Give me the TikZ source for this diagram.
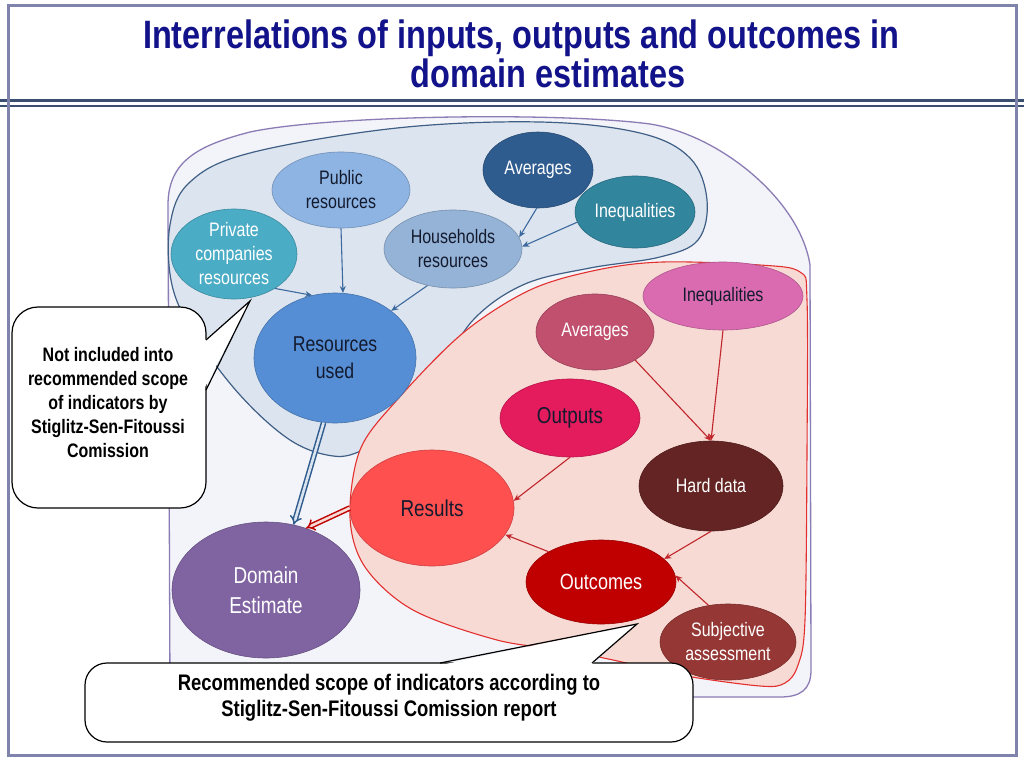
\documentclass[tikz,border=0pt]{standalone}
\usepackage{fontspec}
\setmainfont{Liberation Sans}[FakeStretch=0.82]
\usepackage{tikz}
\usetikzlibrary{shapes.geometric, arrows.meta}
\definecolor{framegray}{HTML}{8084AC}
\definecolor{rulenavy}{HTML}{3A4F70}
\definecolor{titlenavy}{HTML}{12128A}
\definecolor{darktext}{HTML}{141A2E}
\definecolor{scopegray}{HTML}{F3F4F9}
\definecolor{scopeline}{HTML}{8C7CB6}
\definecolor{inputfill}{HTML}{DCE4EF}
\definecolor{inputline}{HTML}{3F5F85}
\definecolor{resultfill}{HTML}{F8DAD5}
\definecolor{resultline}{HTML}{E3302F}
\definecolor{pubblue}{HTML}{8DB4E2}
\definecolor{privteal}{HTML}{4BACC6}
\definecolor{avgblue}{HTML}{2F5C8F}
\definecolor{ineqteal}{HTML}{31859C}
\definecolor{hhblue}{HTML}{95B3D7}
\definecolor{usedblue}{HTML}{558ED5}
\definecolor{ineqpink}{HTML}{DA6BB0}
\definecolor{avgrose}{HTML}{C0506E}
\definecolor{outpink}{HTML}{E41B5D}
\definecolor{hardbrown}{HTML}{632423}
\definecolor{resred}{HTML}{FF5050}
\definecolor{outcred}{HTML}{C00000}
\definecolor{subjred}{HTML}{953734}
\definecolor{domviolet}{HTML}{8064A2}
\definecolor{bluearrow}{HTML}{3D6A9E}
\definecolor{redarrow}{HTML}{C0262C}

\begin{document}
\begin{tikzpicture}[x=1pt, y=-1pt,
  bubble/.style={ellipse, inner sep=0pt, align=center, fill=#1, draw=#1!80!black,
    line width=0.6pt, font=\fontsize{19.5}{24}\selectfont},
  inarrow/.style={bluearrow, line width=1.1pt, -{Stealth[length=7pt, width=6pt]}},
  resarrow/.style={redarrow, line width=1.1pt, -{Stealth[length=7pt, width=6pt]}},
  callout/.style={draw=black, fill=white, line width=1.2pt},
  callouttext/.style={align=center, font=\bfseries\fontsize{19.5}{24}\selectfont}]

\useasboundingbox (0,0) rectangle (1024,768);
\fill[white] (0,0) rectangle (1024,768);

% title
\node[titlenavy, font=\bfseries\fontsize{39.6}{40}\selectfont] (title1) at (521,38)
  {Interrelations of inputs, outputs and outcomes in};
\node[titlenavy, font=\bfseries\fontsize{39.6}{40}\selectfont] (title2) at (548,73)
  {domain estimates};
\draw[rulenavy, line width=2.5pt] (0,100.5) -- (1024,100.5);
\draw[rulenavy, line width=2.5pt] (0,106) -- (1024,106);

% scopes
\draw[scopeline, fill=scopegray, line width=1.3pt]
  (170,690) -- (168,205) .. controls (168,160) and (200,145) .. (250,132)
  .. controls (330,115) and (560,112) .. (650,124)
  .. controls (720,135) and (800,200) .. (810,265)
  -- (811,670) .. controls (811,690) and (800,697) .. (780,697)
  -- (195,697) .. controls (175,697) and (170,692) .. cycle;
\draw[inputline, fill=inputfill, line width=1.2pt] plot[smooth cycle, tension=0.6] coordinates
  {(333,456) (290,440) (240,395) (195,335) (172,285) (170,225) (190,182) (250,153)
   (397,128) (540,122) (640,133) (690,158) (707,200) (698,240) (660,257) (590,268)
   (525,284) (475,318) (440,370) (398,428) (363,450)};
\draw[resultline, fill=resultfill, line width=1.1pt] plot[smooth cycle, tension=0.55] coordinates
  {(663,262) (760,265) (800,272) (807,300) (807,450) (805,620) (798,665) (785,683)
   (760,686) (680,675) (613,660) (563,650) (497,640) (413,610) (365,567) (350,517)
   (360,450) (397,400) (463,333) (530,290) (597,270)};

% inputs
\node[bubble=pubblue, text=darktext, minimum width=138, minimum height=76] (pub) at (341,190) {Public\\resources};
\node[bubble=privteal, text=white, minimum width=126, minimum height=90] (priv) at (234,254) {Private\\companies\\resources};
\node[bubble=avgblue, text=white, minimum width=110, minimum height=76] (avg1) at (538,170) {Averages};
\node[bubble=ineqteal, text=white, minimum width=120, minimum height=72] (ineq1) at (635,212) {Inequalities};
\node[bubble=hhblue, text=darktext, minimum width=138, minimum height=78] (hh) at (453,249) {Households\\resources};
\node[bubble=usedblue, text=darktext, minimum width=162, minimum height=130,
  font=\fontsize{21.5}{27}\selectfont] (used) at (335,358) {Resources\\used};

% results
\node[bubble=ineqpink, text=darktext, minimum width=160, minimum height=68] (ineq2) at (723,296) {Inequalities};
\node[bubble=avgrose, text=white, minimum width=118, minimum height=76] (avg2) at (595,332) {Averages};
\node[bubble=outpink, text=darktext, minimum width=140, minimum height=78,
  font=\fontsize{23}{27}\selectfont] (outp) at (570,418) {Outputs};
\node[bubble=hardbrown, text=white, minimum width=144, minimum height=90] (hard) at (711,486) {Hard data};
\node[bubble=resred, text=darktext, minimum width=164, minimum height=116,
  font=\fontsize{23}{27}\selectfont] (res) at (432,508) {Results};
\node[bubble=outcred, text=white, minimum width=150, minimum height=84,
  font=\fontsize{22}{27}\selectfont] (outc) at (601,582) {Outcomes};
\node[bubble=subjred, text=white, minimum width=136, minimum height=76] (subj) at (728,642) {Subjective\\assessment};
\node[bubble=domviolet, text=white, minimum width=188, minimum height=136,
  font=\fontsize{23}{30}\selectfont] (dom) at (266,590) {Domain\\Estimate};

% connectors
\draw[inarrow] (pub.south) -- (used.83);
\draw[inarrow] (priv.-40) -- (used.110);
\draw[inarrow] (hh.-125) -- (used.40);
\draw[inarrow] (avg1.-92) -- (hh.10);
\draw[inarrow] (ineq1.190) -- (hh.2);
\draw[resarrow] (avg2.-35) -- (hard.north);
\draw[resarrow] (ineq2.south) -- (hard.north);
\draw[resarrow] (outp.south) -- (res.5);
\draw[resarrow] (outc.150) -- (res.-20);
\draw[resarrow] (hard.south) -- (outc.20);
\draw[resarrow] (subj.118) -- (outc.5);
\draw[avgblue, line width=1.5pt, double=inputfill, double distance=2.6pt, -{Implies}] (used.-100) -- (dom.67);
\draw[outcred, line width=1.5pt, double=resultfill, double distance=2.6pt, -{Implies}] (res.west) -- (dom.57);

% callouts
\coordinate (tipA) at (250,301);
\coordinate (tipB) at (637,624);
\draw[callout, rounded corners=26] (12,307) rectangle (206,508);
\fill[white] (204,341) -- (tipA) -- (204,389) -- cycle;
\draw[line width=1.2pt] (206,340) -- (tipA) -- (206,390);
\node[callouttext] (notincl) at (108,403)
  {Not included into\\recommended scope\\of indicators by\\Stiglitz-Sen-Fitoussi\\Comission};
\draw[callout, rounded corners=22] (85,663) rectangle (693,742);
\fill[white] (441,665) -- (tipB) -- (591,665) -- cycle;
\draw[line width=1.2pt] (440,663) -- (tipB) -- (592,663);
\node[callouttext, font=\bfseries\fontsize{22.5}{26}\selectfont] (recomm) at (389,698)
  {Recommended scope of indicators according to\\Stiglitz-Sen-Fitoussi Comission report};

% frame
\draw[framegray, line width=3pt] (8,6) rectangle (1016,755);
\end{tikzpicture}
\end{document}
